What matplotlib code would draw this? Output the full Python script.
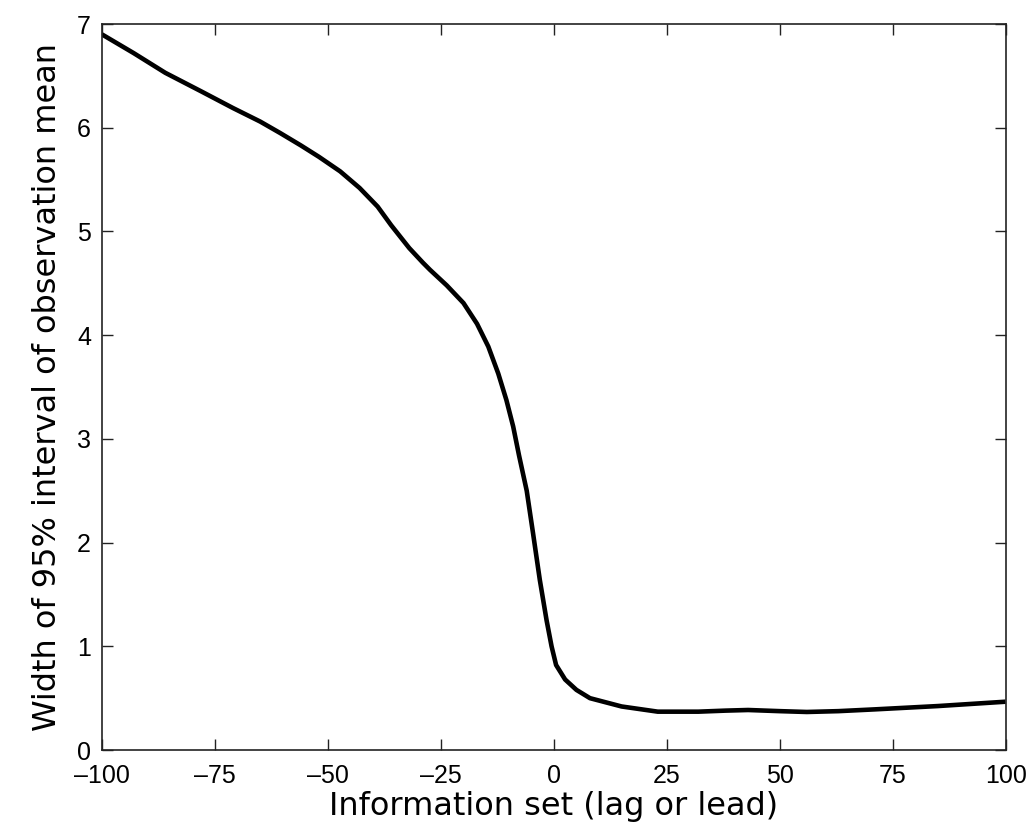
import numpy as np
import matplotlib
matplotlib.use("Agg")
import matplotlib.pyplot as plt

# lag/lead and width of the 95% interval of the observation mean
lag = [-100, -93, -86, -78, -71, -65, -60.6, -56, -52, -47.3, -43, -39, -36,
       -32, -29, -27.4, -23.7, -20, -17, -14.5, -12.3, -10.5, -9, -7.7, -6,
       -4.6, -3.1, -1.6, -0.5, 0.5, 2.5, 5, 8, 15, 23, 32, 38, 43, 50, 56, 63,
       71, 85, 100]
width = [6.90, 6.72, 6.53, 6.35, 6.19, 6.06, 5.95, 5.83, 5.72, 5.58, 5.42,
         5.24, 5.06, 4.84, 4.70, 4.63, 4.48, 4.31, 4.11, 3.89, 3.63, 3.375,
         3.12, 2.84, 2.50, 2.09, 1.64, 1.25, 1.00, 0.82, 0.68, 0.58, 0.50,
         0.42, 0.37, 0.37, 0.38, 0.386, 0.375, 0.367, 0.375, 0.392, 0.424,
         0.466]

xticks = [-100, -75, -50, -25, 0, 25, 50, 75, 100]
yticks = [0, 1, 2, 3, 4, 5, 6, 7]

fig = plt.figure(figsize=(10.35, 8.33), dpi=100)
ax = fig.add_axes([0.0986, 0.0996, 0.873, 0.8715])

ax.plot(lag, width, color="black", lw=3.3, solid_capstyle="butt",
        solid_joinstyle="round")

ax.set_xlim(-100, 100)
ax.set_ylim(0, 7)
ax.set_xticks(xticks)
ax.set_yticks(yticks)
ax.set_xticklabels([str(t).replace("-", "\u2013") for t in xticks],
                   family="Liberation Sans", fontsize=18)
ax.set_yticklabels([str(t) for t in yticks], family="Liberation Sans", fontsize=18)
ax.tick_params(direction="in", length=8, width=1, top=True, right=True,
               color="#222222")
ax.tick_params(axis="x", pad=10)
ax.tick_params(axis="y", pad=8)
for s in ax.spines.values():
    s.set_linewidth(1.2)
    s.set_color("#222222")

ax.set_xlabel("Information set (lag or lead)", fontsize=23, labelpad=2)
ax.set_ylabel("Width of 95% interval of observation mean", fontsize=23, labelpad=10)

fig.savefig("out.png", dpi=100)
